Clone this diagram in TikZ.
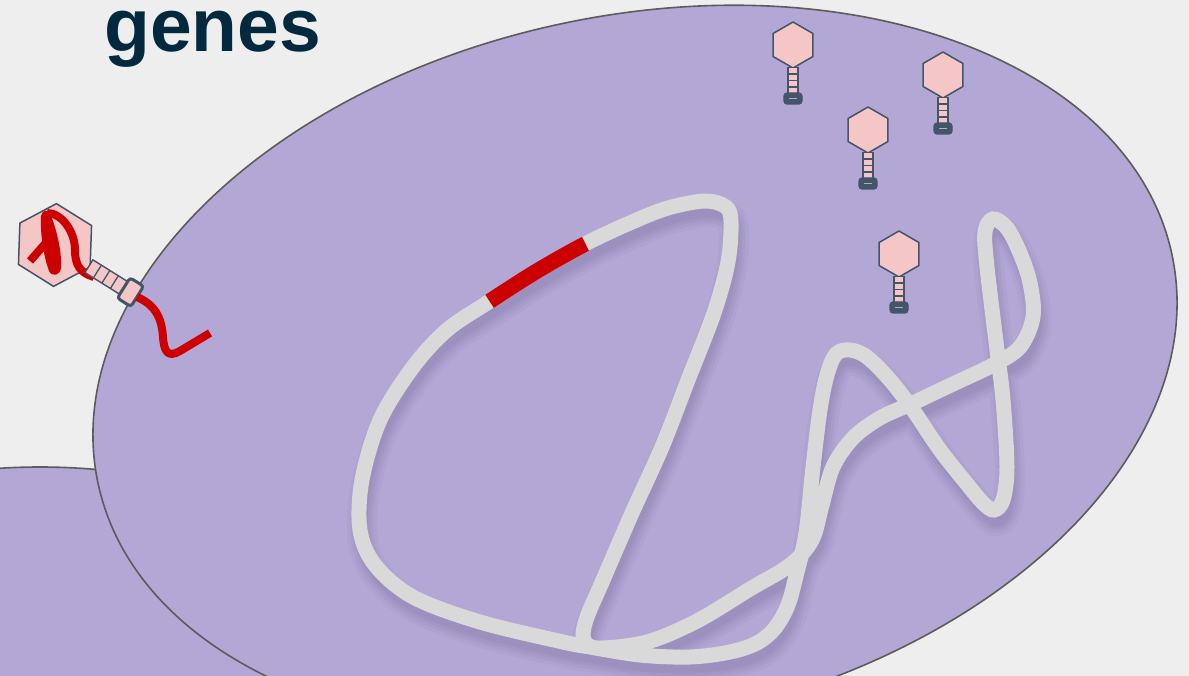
\documentclass[tikz,border=0pt]{standalone}
\usepackage{fontspec}
\newfontfamily\headfont{Liberation Sans}
\definecolor{bgcol}{HTML}{EEEEEE}
\definecolor{cellfill}{HTML}{B3A7D6}
\definecolor{cellline}{HTML}{5C5C5C}
\definecolor{dnagray}{HTML}{D9D9D9}
\definecolor{genered}{HTML}{CC0000}
\definecolor{capsidpink}{HTML}{F4C6C6}
\definecolor{slate}{HTML}{44546A}
\definecolor{titleblue}{HTML}{03293F}
\definecolor{shadowcol}{HTML}{2A2050}

% closed bacterial chromosome
\newcommand\dnapath{plot[smooth cycle, tension=0.55] coordinates {
 (487,303) (537,271) (587,243) (632,222) (668,208) (705,201) (726,207)
 (731,222) (728,262) (714,313) (688,380) (662,447) (632,513) (603,580)
 (586,620) (584,640) (598,648) (647,642) (697,621) (750,589) (790,565)
 (812,540) (822,505) (833,467) (853,438) (880,418) (913,403) (953,384)
 (993,365) (1020,347) (1033,317) (1030,283) (1020,253) (1007,228) (993,219)
 (985,232) (987,267) (997,350) (1003,400) (1007,467) (1003,500) (994,510)
 (983,503) (967,484) (940,450) (913,410) (890,380) (867,357) (850,350)
 (836,354) (827,375) (820,410) (813,467) (806,533) (797,572) (788,605)
 (775,628) (757,643) (730,652) (690,657) (640,655) (590,647) (563,642)
 (480,622) (413,597) (375,565) (360,530) (362,480) (380,420) (413,367)
 (447,330)}}

\tikzset{
  cell/.style={fill=cellfill, draw=cellline, line width=1.6pt},
  capsid/.style={fill=capsidpink, draw=slate, line width=1.5pt, line join=round},
  tailbox/.style={fill=capsidpink, draw=slate, line width=1.4pt},
  tailring/.style={draw=slate, line width=1.3pt},
  collarbox/.style={fill=slate, draw=slate, line width=1.2pt, rounded corners=3pt},
  bigcollar/.style={fill=capsidpink, draw=slate, line width=3pt, rounded corners=3pt},
  collarmark/.style={draw=gray!60, line width=0.8pt},
  redstrand/.style={draw=genered, line width=8pt, line cap=butt, line join=round},
  phagehead/.pic={
    \draw[capsid] (30:23) -- (90:23) -- (150:23) -- (210:23) -- (270:23) -- (330:23) -- cycle;
  },
  phagetail/.pic={
    \draw[tailbox] (-5,22.5) rectangle (5,48.5);
    \foreach \t in {29,35.5,42} \draw[tailring] (-5,\t) -- (5,\t);
    \draw[collarbox] (-9,48) rectangle (9,59);
    \draw[collarmark] (-4,53.5) -- (4,53.5);
  }
}

\begin{document}
\begin{tikzpicture}[x=1pt,y=-1pt]
\useasboundingbox (0,0) rectangle (1189,676);
\fill[bgcol] (0,0) rectangle (1189,676);
\clip (0,0) rectangle (1189,676);

% neighbouring cell and the infected cell
\draw[cell] (40,900) ellipse [x radius=520, y radius=433];
\draw[cell, rotate around={12:(635,369)}] (635,369) ellipse [x radius=549, y radius=353];

% title
\node[anchor=base west, inner sep=0pt, text=titleblue, font=\headfont\bfseries\fontsize{75}{75}\selectfont] (title) at (104,52) {genes};

% soft shadow under the chromosome
\foreach \w/\o in {30/0.035, 23/0.04, 17/0.045, 11/0.045}
  \draw[draw=shadowcol, draw opacity=\o, line width=\w pt, shift={(3,11)}] \dnapath;

% chromosome with the highlighted gene
\draw[draw=dnagray, line width=15pt] \dnapath;
\begin{scope}
  \clip (479,285) -- (501,319) -- (594,261) -- (576,225) -- cycle;
  \draw[draw=genered, line width=15.5pt] \dnapath;
\end{scope}

% free phages
\foreach \px/\py/\nm in {793/45/pa, 943/75/pb, 868/130/pc, 899/254/pd} {
  \pic (\nm head) at (\px,\py) {phagehead};
  \pic (\nm tail) at (\px,\py) {phagetail};
}

% phage injecting its genome: head with packed genome
\pic[rotate=58, scale=1.8] (inj head) at (55,245) {phagehead};
\draw[redstrand] (30,261) -- (51,237);
\draw[redstrand] (94,277) .. controls (80,273) and (75,265) .. (75,250)
   .. controls (75,232) and (62,213) .. (47,213);
\fill[genered] (41,216) .. controls (40,238) and (45,260) .. (49,271)
   .. controls (52,277) and (60,276) .. (61,268)
   .. controls (62,250) and (56,228) .. (50,213)
   .. controls (48,209) and (42,210) .. (41,216) -- cycle;
% its tail and collar on the cell wall
\begin{scope}[shift={(55,245)}, rotate=58]
  \draw[tailbox] (-7.5,40) rectangle (7.5,81);
  \foreach \t in {50,60,70} \draw[tailring] (-7.5,\t) -- (7.5,\t);
  \draw[bigcollar] (-12,81) rectangle (12,97);
\end{scope}
\draw[redstrand] (137,297) .. controls (158,306) and (162,322) .. (163,337)
   .. controls (164,352) and (168,358) .. (180,351) -- (210,333);
\end{tikzpicture}
\end{document}
